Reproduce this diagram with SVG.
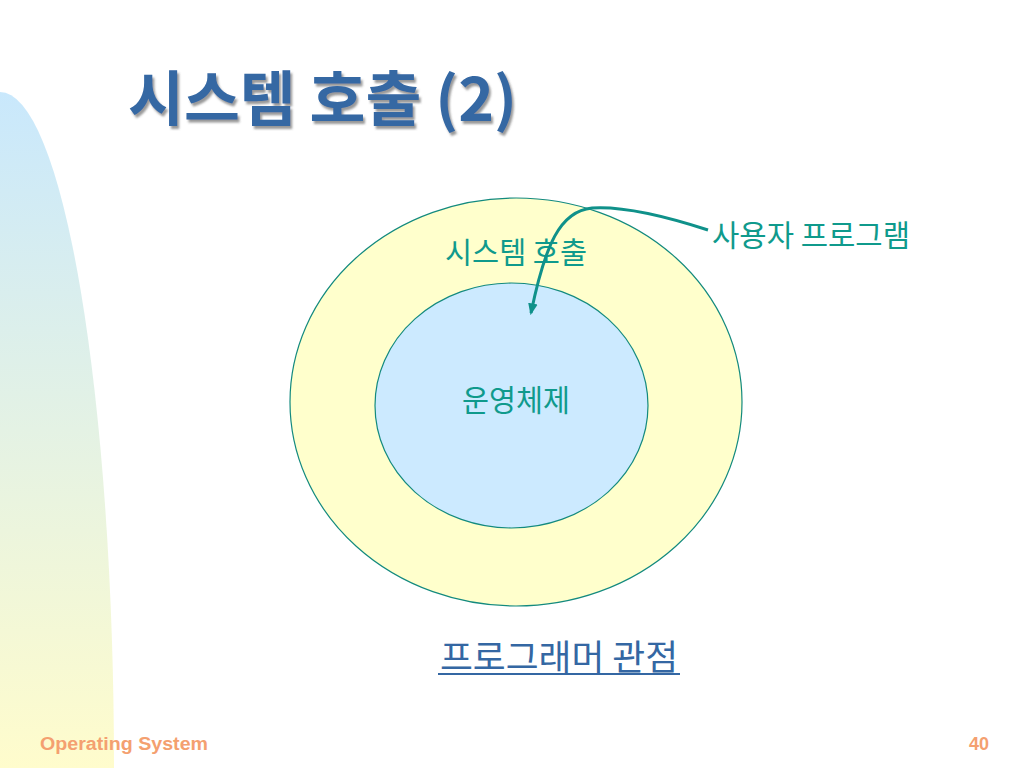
<svg xmlns="http://www.w3.org/2000/svg" width="1024" height="768" viewBox="0 0 1024 768">
<defs>
<linearGradient id="bg" x1="0" y1="0" x2="0" y2="1">
<stop offset="0" stop-color="#c9e8fc"/>
<stop offset="1" stop-color="#fffccc"/>
</linearGradient>
<filter id="sh" x="-10%" y="-10%" width="130%" height="140%">
<feDropShadow dx="2" dy="3" stdDeviation="1.2" flood-color="#555" flood-opacity="0.6"/>
</filter>
<marker id="ah" viewBox="0 0 10 10" refX="8" refY="5" markerWidth="4" markerHeight="4" orient="auto" markerUnits="strokeWidth">
<path d="M0,1 L10,5 L0,9 Z" fill="#0f918a"/>
</marker>
<style>
.k{font-family:"Noto Sans CJK KR","Noto Sans",sans-serif}
.teal{fill:#0f9a8c}
.f{font-family:"Liberation Sans",Arial,sans-serif;font-weight:bold;fill:#f4a070;font-size:18px}
</style>
</defs>
<rect width="1024" height="768" fill="#ffffff"/>
<path d="M0,92 A114,676 0 0 1 114,768 L0,768 Z" fill="url(#bg)"/>
<text class="k" x="128" y="121" font-size="60" font-weight="bold" fill="#3467a3" filter="url(#sh)" textLength="389" lengthAdjust="spacingAndGlyphs">시스템 호출 (2)</text>
<g id="outer">
<ellipse cx="516" cy="402" rx="226" ry="204" fill="#ffffcc" stroke="#138a7e" stroke-width="1.2"/>
<text class="k teal" x="445" y="263" font-size="30" textLength="142" lengthAdjust="spacingAndGlyphs">시스템 호출</text>
</g>
<g id="inner">
<ellipse cx="511.5" cy="405.5" rx="136.5" ry="122.5" fill="#cceaff" stroke="#138a7e" stroke-width="1.2"/>
<text class="k teal" x="462" y="411" font-size="30" textLength="108" lengthAdjust="spacingAndGlyphs">운영체제</text>
</g>
<g id="user">
<text class="k teal" x="712" y="246" font-size="30" textLength="198" lengthAdjust="spacingAndGlyphs">사용자 프로그램</text>
</g>
<g id="connectors">
<path d="M708,230 C665,216 622,206 592,208 C560,211 545,245 531,313" fill="none" stroke="#0f918a" stroke-width="3" marker-end="url(#ah)"/>
</g>
<g id="caption">
<text class="k" x="440" y="670" font-size="35" fill="#3467a3" textLength="238" lengthAdjust="spacingAndGlyphs">프로그래머 관점</text>
<line x1="438" y1="674" x2="680" y2="674" stroke="#3467a3" stroke-width="2"/>
</g>
<text class="f" x="40" y="750" textLength="168" lengthAdjust="spacingAndGlyphs">Operating System</text>
<text class="f" x="989" y="750" text-anchor="end">40</text>
</svg>
